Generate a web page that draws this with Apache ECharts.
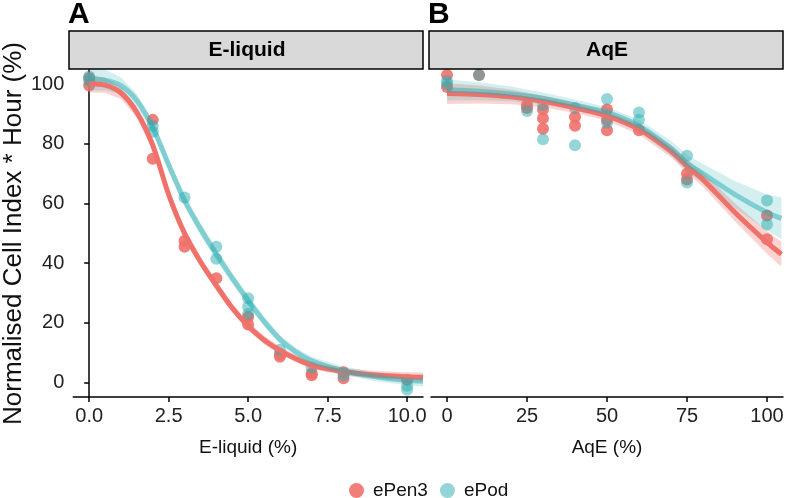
<!DOCTYPE html>
<html><head><meta charset="utf-8">
<script src="https://cdn.jsdelivr.net/npm/echarts@6/dist/echarts.min.js"></script>
<style>html,body{margin:0;padding:0;background:#fff}#c{width:789px;height:498px}</style>
</head><body><div id="c"></div>
<script>
// ---- panel / legend text ----
const panels = ['E-liquid', 'AqE'];
const panelTags = ['A', 'B'];
const groups = ['ePen3', 'ePod'];
const xTitles = ['E-liquid (%)', 'AqE (%)'];
const yTitle = 'Normalised Cell Index * Hour (%)';
const yTicks = [0, 20, 40, 60, 80, 100];
const xTicksA = [0, 2.5, 5, 7.5, 10];
const xTicksB = [0, 25, 50, 75, 100];

// ---- observed points, panel A (E-liquid) ----
const aPenX = [0, 0, 2, 2, 3, 3, 4, 5, 5, 6, 6, 7, 7, 8, 8, 10];
const aPenY = [102, 99.5, 88, 75, 47.5, 45.5, 35, 19.5, 22, 8.7, 9.5, 3.1, 2.5, 3.5, 1.5, 1];
const aPodX = [0, 0, 2, 2, 3, 4, 4, 5, 5, 5, 6, 7, 8, 10, 10];
const aPodY = [101, 102.5, 86, 84, 62, 45.5, 41.5, 28.3, 25.4, 23, 11, 5, 2.5, -2.4, -1];

// ---- observed points, panel B (AqE) ----
const bPenX = [0, 0, 10, 25, 25, 30, 30, 30, 40, 40, 50, 50, 50, 60, 75, 75, 100, 100];
const bPenY = [103, 99, 103, 93, 92, 91.5, 88.5, 85, 89, 86, 91.5, 88, 84.5, 84.5, 70, 68, 56, 48];
const bPodX = [0, 0, 10, 25, 30, 30, 40, 40, 50, 50, 60, 60, 75, 75, 100, 100];
const bPodY = [101, 100, 103, 91, 93, 81.5, 92, 79.5, 95, 87, 90.5, 88, 76, 67, 61, 53];

// ---- fitted curves, panel A ----
const aCurveX = [0, 0.5, 1, 1.5, 2, 2.5, 3, 3.5, 4, 4.5, 5, 5.5, 6, 6.5, 7, 8, 9, 10, 10.5];
const aPenFit = [100.2, 99.6, 97, 90.5, 79.5, 63, 50, 40.5, 32.5, 25, 19, 14.3, 10.8, 8, 5.8, 3.7, 2.6, 2, 1.8];
const aPenHi  = [103.2, 102.1, 99, 92.3, 81.3, 64.8, 51.8, 42.2, 34.1, 26.5, 20.5, 15.7, 12.1, 9.2, 7, 4.9, 3.9, 3.5, 3.4];
const aPenLo  = [97.2, 97.1, 95, 88.7, 77.7, 61.2, 48.2, 38.8, 30.9, 23.5, 17.5, 12.9, 9.5, 6.8, 4.6, 2.5, 1.3, 0.5, 0.2];
const aPodFit = [101.8, 101.3, 99.5, 94.5, 85.5, 73, 61, 51.5, 43, 35, 27.5, 20.5, 14.5, 10.3, 7.3, 4, 2, 0.8, 0.5];
const aPodHi  = [105.8, 104.8, 102.3, 96.7, 87.5, 75, 63, 53.5, 44.9, 36.8, 29.2, 22.1, 16, 11.7, 8.7, 5.4, 3.5, 2.5, 2.3];
const aPodLo  = [97.8, 97.8, 96.7, 92.3, 83.5, 71, 59, 49.5, 41.1, 33.2, 25.8, 18.9, 13, 8.9, 5.9, 2.6, 0.5, -0.9, -1.3];

// ---- fitted curves, panel B ----
const bCurveX = [0, 10, 20, 30, 40, 50, 60, 70, 75, 80, 90, 100, 104.5];
const bPenFit = [96.8, 96.5, 95.7, 94.2, 92, 89.3, 84.8, 77.5, 72.5, 68, 57, 47, 43];
const bPenHi  = [100.3, 99.5, 98.2, 96.2, 93.7, 90.9, 86.5, 79.5, 74.7, 70.4, 60, 50.8, 47.2];
const bPenLo  = [93.3, 93.5, 93.2, 92.2, 90.3, 87.7, 83.1, 75.5, 70.3, 65.6, 54, 43.2, 38.8];
const bPodFit = [98, 97.6, 96.7, 95.2, 93, 90.5, 86, 78.5, 73.5, 70, 63, 57, 55];
const bPodHi  = [101.5, 100.6, 99.2, 97.2, 94.8, 92.3, 88, 81, 76.3, 73.2, 67.5, 63, 62];
const bPodLo  = [94.5, 94.6, 94.2, 93.2, 91.2, 88.7, 84, 76, 70.7, 66.8, 58.5, 51, 48];

// ---- styling ----
const RED = '#F0706A';
const BLUE = '#2AADB2';
const FONT = 'Liberation Sans, Arial, sans-serif';
const G = [{left: 71, top: 70, width: 352, height: 327}, {left: 431, top: 70, width: 352, height: 327}];

const zip = (xs, ys) => xs.map((x, i) => [x, ys[i]]);

function scatter(name, xs, ys, idx, color, op) {
  return {type: 'scatter', name, xAxisIndex: idx, yAxisIndex: idx, data: zip(xs, ys),
    symbolSize: 12, itemStyle: {color, opacity: op}, z: 2, silent: true};
}
function band(name, xs, lo, hi, idx, fill) {
  return {type: 'custom', name, xAxisIndex: idx, yAxisIndex: idx, clip: true, z: 3, silent: true,
    data: [[xs[0], lo[0]]],
    renderItem: (params, api) => {
      const pts = [];
      for (let i = 0; i < xs.length; i++) pts.push(api.coord([xs[i], hi[i]]));
      for (let i = xs.length - 1; i >= 0; i--) pts.push(api.coord([xs[i], lo[i]]));
      return {type: 'polygon', shape: {points: pts, smooth: 0}, style: {fill: fill}};
    }};
}
function curve(name, xs, ys, idx, color, op) {
  return {type: 'line', name, xAxisIndex: idx, yAxisIndex: idx, data: zip(xs, ys), smooth: 0.3,
    showSymbol: false, symbol: 'none', z: 4, silent: true,
    lineStyle: {color, width: 5, opacity: op}, itemStyle: {color}};
}

function xAxis(idx, min, max, ticks, fmt) {
  return {type: 'value', gridIndex: idx, min, max,
    axisLine: {show: true, onZero: false, lineStyle: {color: '#000', width: 1.5}},
    axisTick: {show: true, length: 5, customValues: ticks, lineStyle: {color: '#000', width: 1.5}},
    axisLabel: {customValues: ticks, formatter: fmt, fontFamily: FONT, fontSize: 20, color: '#222', margin: 9},
    splitLine: {show: false},
    name: xTitles[idx], nameLocation: 'middle', nameGap: 41,
    nameTextStyle: {fontFamily: FONT, fontSize: 19, color: '#111'}};
}
function yAxis(idx, show) {
  return {type: 'value', gridIndex: idx, min: -4.8, max: 104.7,
    axisLine: {show: show, lineStyle: {color: '#000', width: 1.5}},
    axisTick: {show: show, length: 5, customValues: yTicks, lineStyle: {color: '#000', width: 1.5}},
    axisLabel: {show: show, customValues: yTicks, fontFamily: FONT, fontSize: 20, color: '#222', margin: 9},
    splitLine: {show: false},
    name: show ? yTitle : '', nameLocation: 'middle', nameGap: 44,
    nameTextStyle: {fontFamily: FONT, fontSize: 26, color: '#111'}};
}

const graphics = [];
panels.forEach((p, i) => {
  const g = G[i];
  graphics.push({type: 'rect', shape: {x: g.left - 2, y: 31, width: g.width + 2, height: 38},
    style: {fill: '#D9D9D9', stroke: '#000', lineWidth: 1.5}, z: 10});
  graphics.push({type: 'text', x: g.left + g.width / 2, y: 50,
    style: {text: p, fontFamily: FONT, fontWeight: 'bold', fontSize: 21, fill: '#000', align: 'center', verticalAlign: 'middle'}, z: 11});
  graphics.push({type: 'text', x: g.left - 3, y: 0,
    style: {text: panelTags[i], fontFamily: FONT, fontWeight: 'bold', fontSize: 30, fill: '#000', align: 'left', verticalAlign: 'top'}, z: 11});
});

const chart = echarts.init(document.getElementById('c'), null, {renderer: 'canvas'});
chart.setOption({
  animation: false,
  backgroundColor: '#fff',
  grid: G,
  xAxis: [xAxis(0, -0.5, 10.5, xTicksA, v => v.toFixed(1)), xAxis(1, -5, 105, xTicksB, v => String(v))],
  yAxis: [yAxis(0, true), yAxis(1, false)],
  legend: {data: groups, left: 344, top: 476, icon: 'circle', itemWidth: 15, itemHeight: 15, itemGap: 12,
    textStyle: {fontFamily: FONT, fontSize: 19, color: '#111', padding: [0, 0, 0, 4]}},
  graphic: graphics,
  series: [
    scatter(groups[0], aPenX, aPenY, 0, RED, 0.9),
    scatter(groups[1], aPodX, aPodY, 0, BLUE, 0.5),
    scatter(groups[0], bPenX, bPenY, 1, RED, 0.9),
    scatter(groups[1], bPodX, bPodY, 1, BLUE, 0.5),
    band(groups[0], aCurveX, aPenLo, aPenHi, 0, 'rgba(240,112,106,0.3)'),
    band(groups[1], aCurveX, aPodLo, aPodHi, 0, 'rgba(42,173,178,0.2)'),
    band(groups[0], bCurveX, bPenLo, bPenHi, 1, 'rgba(240,112,106,0.3)'),
    band(groups[1], bCurveX, bPodLo, bPodHi, 1, 'rgba(42,173,178,0.2)'),
    curve(groups[0], aCurveX, aPenFit, 0, RED, 1),
    curve(groups[1], aCurveX, aPodFit, 0, BLUE, 0.5),
    curve(groups[0], bCurveX, bPenFit, 1, RED, 1),
    curve(groups[1], bCurveX, bPodFit, 1, BLUE, 0.5)
  ]
});
</script></body></html>
